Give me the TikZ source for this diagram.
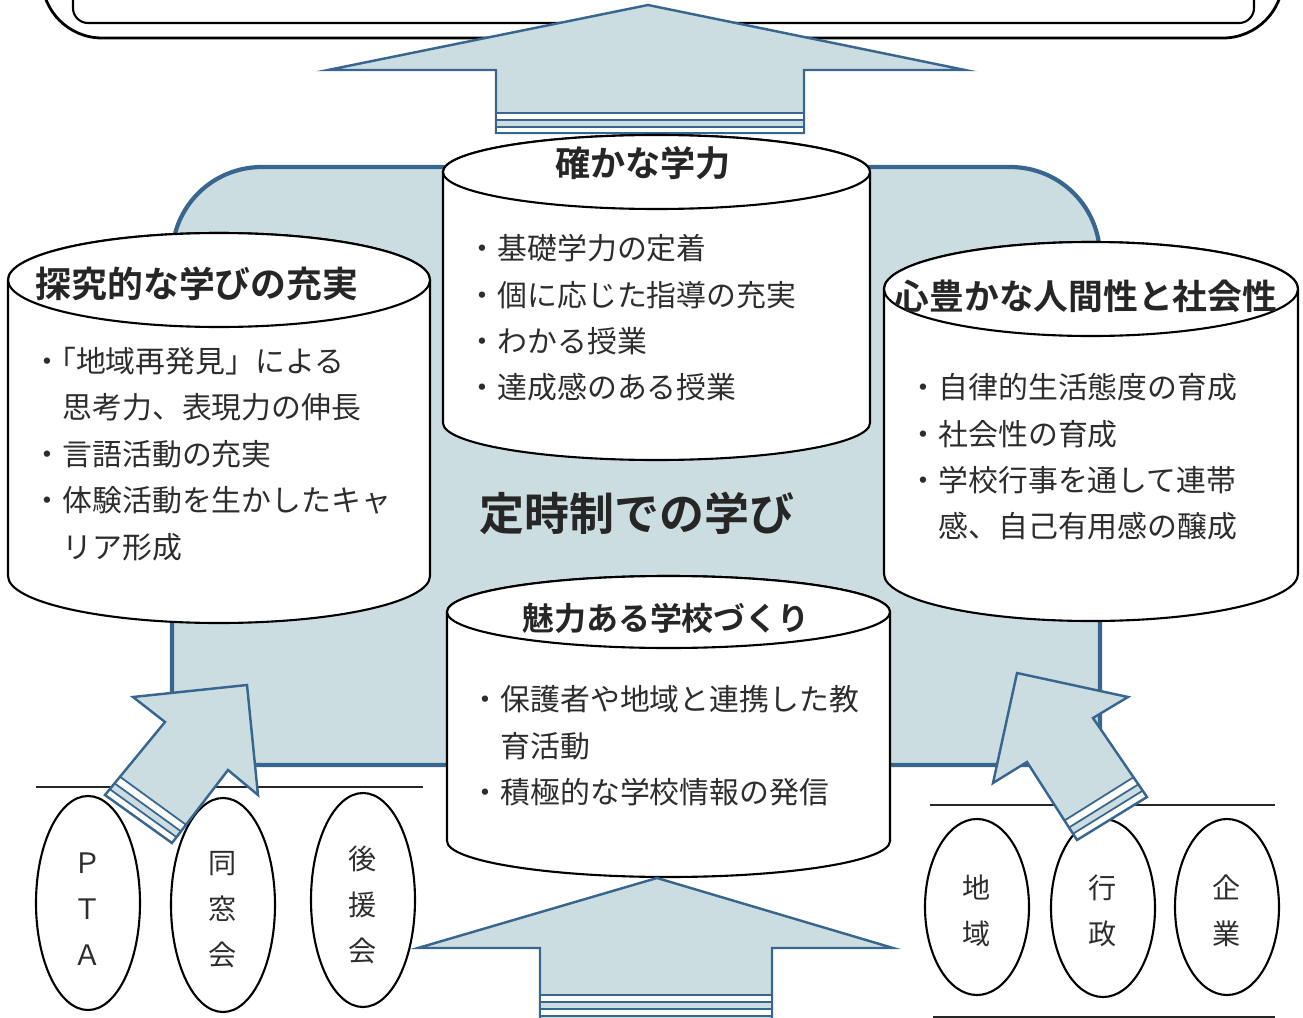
\documentclass[tikz,border=0pt]{standalone}
\usepackage{fontspec}
\setmainfont{Noto Sans CJK JP}[BoldFont={Noto Sans CJK JP Bold}]
\usetikzlibrary{shapes.geometric, calc}
\definecolor{panelfill}{RGB}{204,221,226}
\definecolor{panelline}{RGB}{56,102,142}
\definecolor{inkgray}{RGB}{45,45,45}

% cylinder: centre x, top y, bottom y, x radius, y radius
\newcommand{\drumshape}[5]{%
  \filldraw[drum] ({#1-#4},#2) -- ({#1-#4},#3)
    arc[start angle=180, end angle=0, x radius=#4, y radius=#5]
    -- ({#1+#4},#2)
    arc[start angle=0, end angle=-180, x radius=#4, y radius=#5] -- cycle;
  \draw[drum] (#1,#2) ellipse[x radius=#4, y radius=#5];
}

\begin{document}
\begin{tikzpicture}[x=0.1mm, y=-0.1mm,
    drum/.style={draw=black, line width=0.6pt, fill=white},
    panel/.style={draw=panelline, line width=1.2pt, fill=panelfill},
    bigarrow/.style={draw=panelline, line width=0.7pt, fill=panelfill, line join=miter},
    band/.style={draw=panelline, line width=0.5pt, fill=white},
    hline/.style={draw=black!85, line width=0.7pt},
    heading/.style={font=\bfseries\fontsize{#1}{14}\selectfont, text=black!85, inner sep=0pt},
    bodytext/.style={font=\fontsize{8.5}{13.2}\selectfont, text=inkgray, align=left, anchor=west, inner sep=0pt},
    member/.style={ellipse, draw, line width=0.6pt, minimum width=10.4mm, minimum height=#1, inner sep=0pt},
    membertext/.style={align=center, inner sep=0pt, font=\fontsize{8}{13.1}\selectfont, text=inkgray}]

  \useasboundingbox (0,0) rectangle (1303,1018);
  \clip (0,0) rectangle (1303,1018);

  % Top frame (cut off)
  \draw[line width=0.8pt, rounded corners=6mm] (42,-120) rectangle (1283,38);
  \draw[line width=0.6pt, rounded corners=1.5mm] (73,-120) rectangle (1254,23);

  % Central panel
  \filldraw[panel] (172,745) -- (172,257) .. controls (172,207) and (212,167) .. (262,167)
    -- (1010,167) .. controls (1060,167) and (1100,207) .. (1100,257)
    -- (1100,745) .. controls (1100,756) and (1091,765) .. (1080,765)
    -- (192,765) .. controls (181,765) and (172,756) .. (172,745) -- cycle;

  % Arrow to the top frame
  \filldraw[bigarrow] (648,5) -- (965,70) -- (804,70) -- (804,133) -- (496,133) -- (496,70) -- (328,70) -- cycle;
  \filldraw[band] (496,113) rectangle (804,120);
  \filldraw[band, fill=panelfill] (496,120) rectangle (804,127);
  \filldraw[band] (496,127) rectangle (804,133);

  % Cylinders
  \drumshape{656.5}{172}{423}{213.5}{37}
  \drumshape{219}{280}{576}{211}{47}
  \drumshape{1091}{289}{574}{207}{47}
  \drumshape{668.5}{612}{841}{221.5}{36}

  \node[heading=10] (solid) at (643,163) {確かな学力};
  \node[bodytext] (solidlist) at (467,318)
    {・基礎学力の定着\\・個に応じた指導の充実\\・わかる授業\\・達成感のある授業};

  \node[heading=10.2] (inquiry) at (197,284) {探究的な学びの充実};
  \node[bodytext] (inquirylist) at (32,454)
    {・\kern-0.55em「地域再発見」による\\　思考力、表現力の伸長\\・言語活動の充実\\・体験活動を生かしたキャ\\　リア形成};

  \node[heading=9.9] (heart) at (1086,296) {心豊かな人間性と社会性};
  \node[bodytext] (heartlist) at (908,457)
    {・自律的生活態度の育成\\・社会性の育成\\・学校行事を通して連帯\\　感、自己有用感の醸成};

  \node[heading=9.1] (appeal) at (666,618) {魅力ある学校づくり};
  \node[bodytext] (appeallist) at (470,746)
    {・保護者や地域と連携した教\\　育活動\\・積極的な学校情報の発信};

  \node[heading=12.8] (core) at (637,513) {定時制での学び};

  % Supporters
  \draw[hline] (36,787) -- (423,787);
  \draw[hline] (930,805) -- (1275,805);
  \draw[hline] (933,1017) -- (1275,1017);

  \foreach \name/\x/\y/\h/\dy/\t in {pta/88/903/21.4mm/6/{Ｐ\\Ｔ\\Ａ},
      dosokai/223/905/21.4mm/5/{同\\窓\\会}, koenkai/363/900/21.4mm/5/{後\\援\\会},
      chiiki/977/907/17.6mm/4/{地\\域}, gyosei/1103/908/17.8mm/3/{行\\政},
      kigyo/1227/907/17.6mm/4/{企\\業}} {
    \node[member=\h] (\name) at (\x,\y) {};
    \node[membertext] (\name text) at ($(\name)+(0,\dy)$) {\t};
  }

  % Arrow from the bottom
  \filldraw[bigarrow] (657,878) -- (893,948) -- (772,948) -- (772,1040) -- (540,1040) -- (540,948) -- (418,948) -- cycle;
  \filldraw[band] (540,995) rectangle (772,1002);
  \filldraw[band, fill=panelfill] (540,1002) rectangle (772,1009);
  \filldraw[band] (540,1009) rectangle (772,1016);

  % Diagonal arrows
  \coordinate (la1) at (105,795);  \coordinate (la2) at (165,722);
  \coordinate (la3) at (133,697);  \coordinate (la4) at (247,685);
  \coordinate (la5) at (258,795);  \coordinate (la6) at (228,770);
  \coordinate (la7) at (172,843);
  \coordinate (ra1) at (1147,797); \coordinate (ra2) at (1093,718);
  \coordinate (ra3) at (1128,697); \coordinate (ra4) at (1017,673);
  \coordinate (ra5) at (993,783);  \coordinate (ra6) at (1027,762);
  \coordinate (ra7) at (1077,840);

  \foreach \s in {la, ra} {
    \fill[panelfill] (\s1) -- (\s2) -- (\s3) -- (\s4) -- (\s5) -- (\s6) -- (\s7) -- cycle;
    \fill[white] (\s1) -- ($(\s1)!0.25!(\s2)$) -- ($(\s7)!0.25!(\s6)$) -- (\s7) -- cycle;
    \fill[panelfill] ($(\s1)!0.08!(\s2)$) -- ($(\s1)!0.16!(\s2)$) -- ($(\s7)!0.16!(\s6)$) -- ($(\s7)!0.08!(\s6)$) -- cycle;
    \foreach \f in {0.08, 0.16, 0.25}
      \draw[panelline, line width=0.5pt] ($(\s1)!\f!(\s2)$) -- ($(\s7)!\f!(\s6)$);
    \draw[bigarrow, fill=none] (\s1) -- (\s2) -- (\s3) -- (\s4) -- (\s5) -- (\s6) -- (\s7) -- cycle;
  }
\end{tikzpicture}
\end{document}
